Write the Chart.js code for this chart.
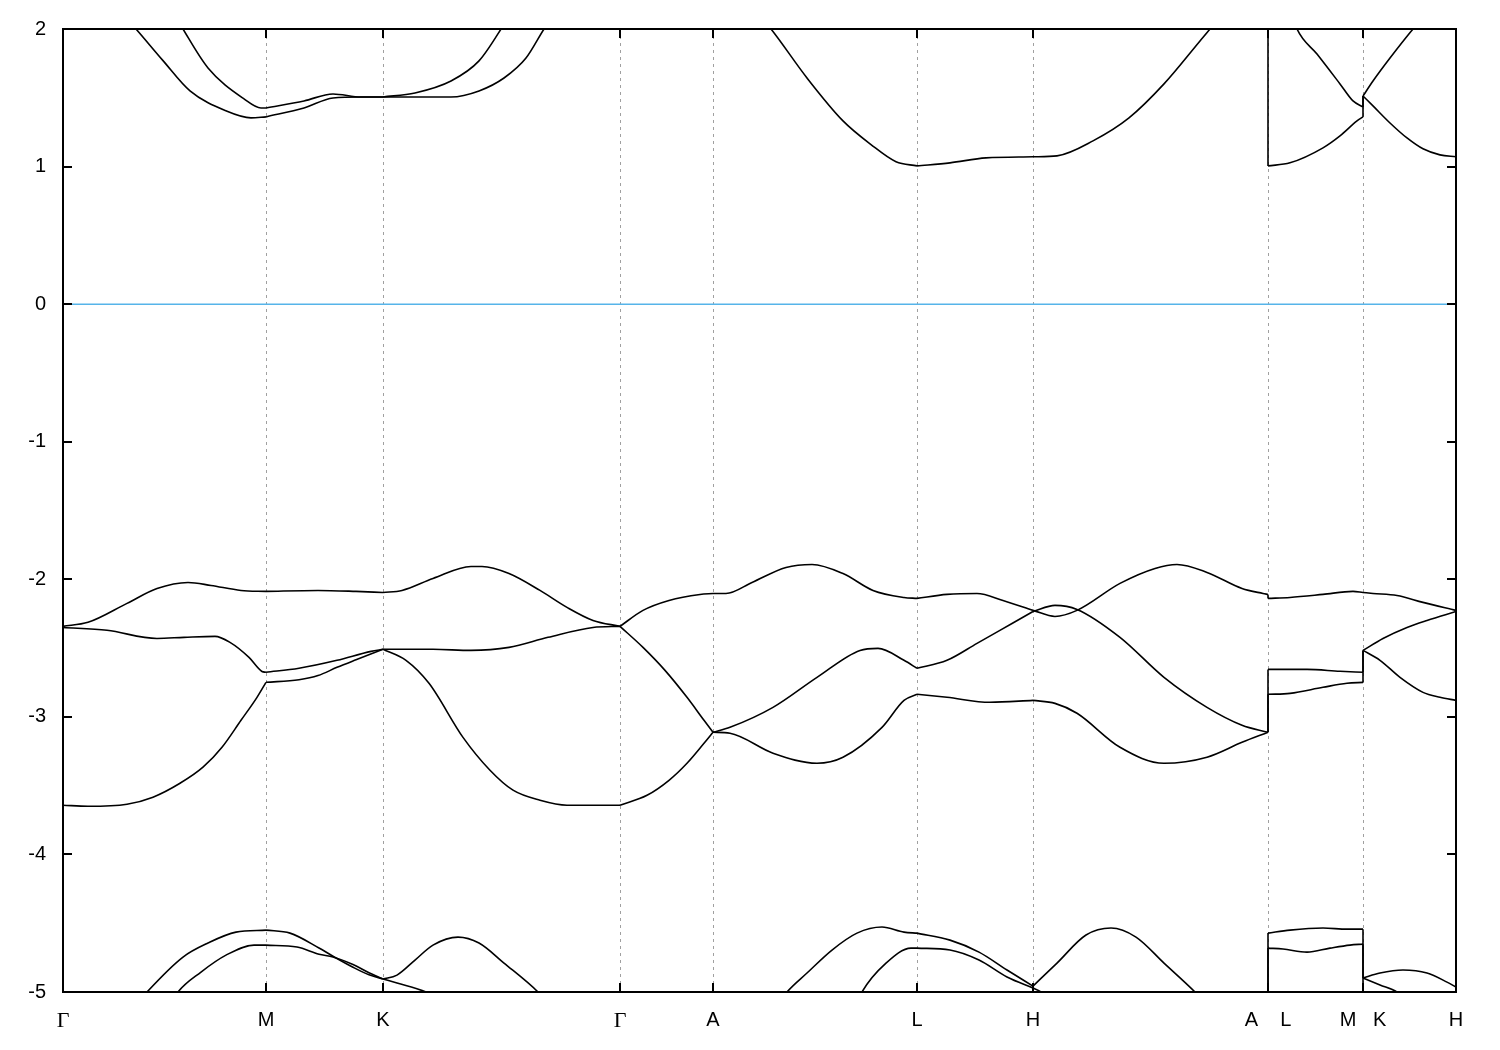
<!DOCTYPE html>
<html>
<head>
<meta charset="utf-8">
<title>Band structure</title>
<script src="https://cdn.jsdelivr.net/npm/chart.js@4.4.1/dist/chart.umd.min.js"></script>
<style>
  html, body { margin: 0; padding: 0; background: #fff; }
</style>
</head>
<body>
<canvas id="bands" width="1500" height="1050"></canvas>
<script>
// Band structure along Γ-M-K-Γ-A-L-H-A|L-M|K-H, energies in eV, Fermi level at 0
// k is the path length in arbitrary units, E read off the reference plot

const symPos = [0, 203, 320, 557, 650, 854, 970, 1205, 1300, 1393];
const symLabels = ['Γ', 'M', 'K', 'Γ', 'A', 'L', 'H', 'A    L', 'M   K', 'H'];
const yTicks = [2, 1, 0, -1, -2, -3, -4, -5];

const fermiLine = [[0, 0], [1393, 0]];

// conduction bands (top)
const cTop1 = [[57, 2.13], [73, 2.0], [100, 1.77], [127, 1.55], [163, 1.405], [188, 1.354], [203, 1.361], [241, 1.426], [270, 1.499], [298, 1.506], [320, 1.506], [388, 1.506], [416, 1.55], [441, 1.644], [463, 1.789], [481, 2.0], [495, 2.15]];
const cTop2 = [[108, 2.15], [120, 2.0], [145, 1.717], [181, 1.492], [198, 1.426], [203, 1.426], [241, 1.477], [270, 1.528], [298, 1.506], [320, 1.506], [352, 1.535], [388, 1.622], [416, 1.768], [438, 2.0], [450, 2.15]];
const cTop3 = [[690, 2.15], [708, 2.0], [744, 1.644], [780, 1.332], [808, 1.160], [833, 1.035], [854, 1.005], [887, 1.027], [923, 1.063], [970, 1.071], [994, 1.078], [1030, 1.187], [1066, 1.354], [1101, 1.601], [1137, 1.913], [1147, 2.0], [1160, 2.12], [1205, 2.6],
  [1205, 1.005], [1227, 1.027], [1260, 1.136], [1277, 1.223], [1294, 1.332], [1300, 1.361],
  [1300, 1.513], [1310, 1.441], [1327, 1.317], [1344, 1.208], [1360, 1.129], [1377, 1.085], [1393, 1.071]];
const cTop4 = [[1225, 2.2], [1234, 2.0], [1254, 1.818], [1277, 1.601], [1290, 1.477], [1300, 1.434],
  [1300, 1.513], [1310, 1.622], [1327, 1.789], [1350, 2.0], [1362, 2.1]];

// valence bands around -2 .. -3.7
const cMid1 = [[0, -2.342], [25, -2.313], [64, -2.175], [94, -2.067], [125, -2.023], [148, -2.045], [178, -2.081], [203, -2.088], [255, -2.081], [293, -2.088], [320, -2.096], [339, -2.081], [370, -1.994], [408, -1.907], [419, -1.907], [446, -1.958], [477, -2.081], [504, -2.204], [530, -2.299], [557, -2.342],
  [580, -2.226], [606, -2.154], [637, -2.110], [650, -2.103], [663, -2.103], [689, -2.023], [723, -1.914], [749, -1.892], [780, -1.958], [810, -2.081], [841, -2.132], [854, -2.139], [884, -2.110], [914, -2.103], [940, -2.154], [970, -2.226], [992, -2.270], [1014, -2.226], [1057, -2.030], [1092, -1.921], [1114, -1.892], [1144, -1.950], [1179, -2.067], [1200, -2.103], [1205, -2.110],
  [1205, -2.139], [1227, -2.132], [1260, -2.110], [1290, -2.088], [1300, -2.096],
  [1310, -2.103], [1334, -2.118], [1360, -2.168], [1393, -2.226]];
const cMid2 = [[0, -2.350], [44, -2.371], [94, -2.430], [121, -2.422], [152, -2.415], [167, -2.459], [186, -2.568], [199, -2.670], [203, -2.676], [236, -2.647], [274, -2.589], [308, -2.524], [320, -2.509], [370, -2.509], [408, -2.517], [446, -2.495], [485, -2.422], [530, -2.350], [557, -2.342],
  [580, -2.495], [602, -2.662], [624, -2.858], [641, -3.025], [650, -3.112],
  [667, -3.076], [710, -2.931], [754, -2.713], [797, -2.517], [815, -2.502], [841, -2.589], [854, -2.647], [884, -2.589], [914, -2.466], [949, -2.321], [970, -2.234], [992, -2.190], [1014, -2.219], [1057, -2.422], [1101, -2.713], [1144, -2.931], [1179, -3.061], [1205, -3.112],
  [1205, -2.655], [1244, -2.655], [1277, -2.669], [1300, -2.676],
  [1300, -2.517], [1320, -2.430], [1344, -2.350], [1364, -2.299], [1393, -2.234]];
const cMid3 = [[0, -3.642], [25, -3.650], [64, -3.635], [90, -3.584], [117, -3.483], [140, -3.366], [159, -3.221], [178, -3.025], [194, -2.858], [203, -2.749], [236, -2.730], [255, -2.700], [274, -2.640], [293, -2.585], [320, -2.509], [343, -2.589], [366, -2.756], [400, -3.149], [427, -3.388], [450, -3.533], [477, -3.606], [504, -3.642], [530, -3.642], [557, -3.642],
  [584, -3.570], [606, -3.461], [624, -3.337], [641, -3.192], [650, -3.112],
  [667, -3.119], [710, -3.264], [754, -3.337], [780, -3.293], [819, -3.076], [841, -2.880], [854, -2.836], [884, -2.858], [927, -2.894], [970, -2.880], [992, -2.902], [1014, -2.974], [1057, -3.221], [1101, -3.337], [1144, -3.293], [1179, -3.185], [1205, -3.112],
  [1205, -2.836], [1227, -2.829], [1260, -2.785], [1284, -2.756], [1300, -2.749],
  [1300, -2.517], [1317, -2.589], [1337, -2.713], [1360, -2.822], [1377, -2.858], [1393, -2.880]];

// deeper valence bands near the bottom edge
const cBot1 = [[70, -5.12], [84, -5.0], [120, -4.746], [145, -4.644], [173, -4.565], [203, -4.550], [227, -4.572], [256, -4.680], [270, -4.740], [290, -4.820], [306, -4.875], [320, -4.905], [334, -4.877], [352, -4.768], [370, -4.659], [395, -4.601], [416, -4.644], [441, -4.790], [475, -5.0], [490, -5.12]];
const cBot2 = [[105, -5.12], [115, -5.0], [138, -4.855], [163, -4.732], [191, -4.659], [203, -4.659], [234, -4.673], [256, -4.725], [270, -4.745], [290, -4.800], [306, -4.860], [320, -4.905], [334, -4.935], [363, -5.0], [380, -5.06]];
const cBot3 = [[712, -5.12], [724, -5.0], [744, -4.862], [769, -4.695], [794, -4.572], [819, -4.528], [841, -4.565], [854, -4.572], [887, -4.623], [916, -4.710], [944, -4.840], [970, -4.957], [994, -4.790], [1023, -4.586], [1048, -4.535], [1073, -4.601], [1101, -4.790], [1132, -5.0], [1145, -5.1]];
const cBot4 = [[790, -5.15], [799, -5.0], [823, -4.790], [848, -4.681], [854, -4.681], [887, -4.695], [916, -4.768], [944, -4.891], [970, -4.971], [978, -5.0], [990, -5.08]];
const cBot5 = [[1205, -5.2], [1205, -4.572], [1227, -4.550], [1260, -4.535], [1284, -4.543], [1300, -4.543], [1300, -5.2]];
const cBot6 = [[1205, -5.2], [1205, -4.681], [1220, -4.688], [1244, -4.710], [1267, -4.681], [1287, -4.659], [1300, -4.652],
  [1300, -4.898], [1317, -4.862], [1340, -4.840], [1364, -4.862], [1384, -4.928], [1393, -4.964]];
const cBot7 = [[1300, -4.898], [1317, -4.949], [1334, -5.0], [1345, -5.06]];

const curves = [cTop1, cTop2, cTop3, cTop4, cMid1, cMid2, cMid3, cBot1, cBot2, cBot3, cBot4, cBot5, cBot6, cBot7];

// cut each band at the high-symmetry points so kinks and jumps stay sharp
function splitAtSym(pts) {
  const pieces = [];
  let cur = [pts[0]];
  for (let i = 1; i < pts.length; i++) {
    const p = pts[i];
    cur.push(p);
    if (symPos.includes(p[0]) && i < pts.length - 1) {
      pieces.push(cur);
      cur = [p];
    }
  }
  pieces.push(cur);
  return pieces;
}

const toXY = (arr) => arr.map(([x, y]) => ({ x, y }));

const datasets = [{
  data: toXY(fermiLine),
  borderColor: '#56b4e9',
  borderWidth: 1.5,
  showLine: true,
  pointRadius: 0,
  clip: 0
}];
curves.forEach((c) => {
  splitAtSym(c).forEach((piece) => {
    datasets.push({
      data: toXY(piece),
      borderColor: '#000',
      borderWidth: 1.6,
      showLine: true,
      pointRadius: 0,
      cubicInterpolationMode: 'monotone',
      clip: 0
    });
  });
});

// frame and inward ticks on all four sides, like the original plot
const frameTicks = {
  id: 'frameTicks',
  afterDatasetsDraw(chart) {
    const { ctx, chartArea: a, scales: { x, y } } = chart;
    const len = 9;
    ctx.save();
    ctx.strokeStyle = '#000';
    ctx.lineWidth = 2;
    ctx.beginPath();
    yTicks.forEach((v) => {
      const py = Math.round(y.getPixelForValue(v));
      ctx.moveTo(a.left, py); ctx.lineTo(a.left + len, py);
      ctx.moveTo(a.right, py); ctx.lineTo(a.right - len, py);
    });
    symPos.forEach((v) => {
      const px = Math.round(x.getPixelForValue(v));
      ctx.moveTo(px, a.bottom); ctx.lineTo(px, a.bottom - len);
      ctx.moveTo(px, a.top); ctx.lineTo(px, a.top + len);
    });
    ctx.stroke();
    ctx.strokeRect(a.left, a.top, a.right - a.left, a.bottom - a.top);
    ctx.restore();
  }
};

new Chart(document.getElementById('bands'), {
  type: 'scatter',
  data: { datasets },
  plugins: [frameTicks],
  options: {
    responsive: false,
    devicePixelRatio: 1,
    animation: false,
    layout: { padding: { top: 28, right: 44, left: 0, bottom: 0 } },
    plugins: { legend: { display: false }, tooltip: { enabled: false } },
    scales: {
      x: {
        type: 'linear',
        min: 0,
        max: 1393,
        afterFit: (scale) => { scale.height = 58; },
        afterBuildTicks: (scale) => { scale.ticks = symPos.map((v) => ({ value: v })); },
        grid: {
          drawTicks: false,
          lineWidth: 1,
          color: (ctx) => (ctx.index === 0 || ctx.index === symPos.length - 1 ? 'rgba(0,0,0,0)' : '#a0a0a0')
        },
        border: { display: false, dash: [3, 4] },
        ticks: {
          autoSkip: false,
          maxRotation: 0,
          padding: 16,
          color: '#000',
          font: (ctx) => (symLabels[ctx.index] === 'Γ'
            ? { family: 'Liberation Serif', size: 22 }
            : { family: 'Liberation Sans', size: 20 }),
          callback: (v, i) => symLabels[i]
        }
      },
      y: {
        min: -5,
        max: 2,
        afterFit: (scale) => { scale.width = 63; },
        afterBuildTicks: (scale) => { scale.ticks = yTicks.map((v) => ({ value: v })); },
        grid: { display: false, drawTicks: false },
        border: { display: false },
        ticks: {
          padding: 17,
          color: '#000',
          font: { family: 'Liberation Sans', size: 20 },
          callback: (v) => String(v)
        }
      }
    }
  }
});
</script>
</body>
</html>
